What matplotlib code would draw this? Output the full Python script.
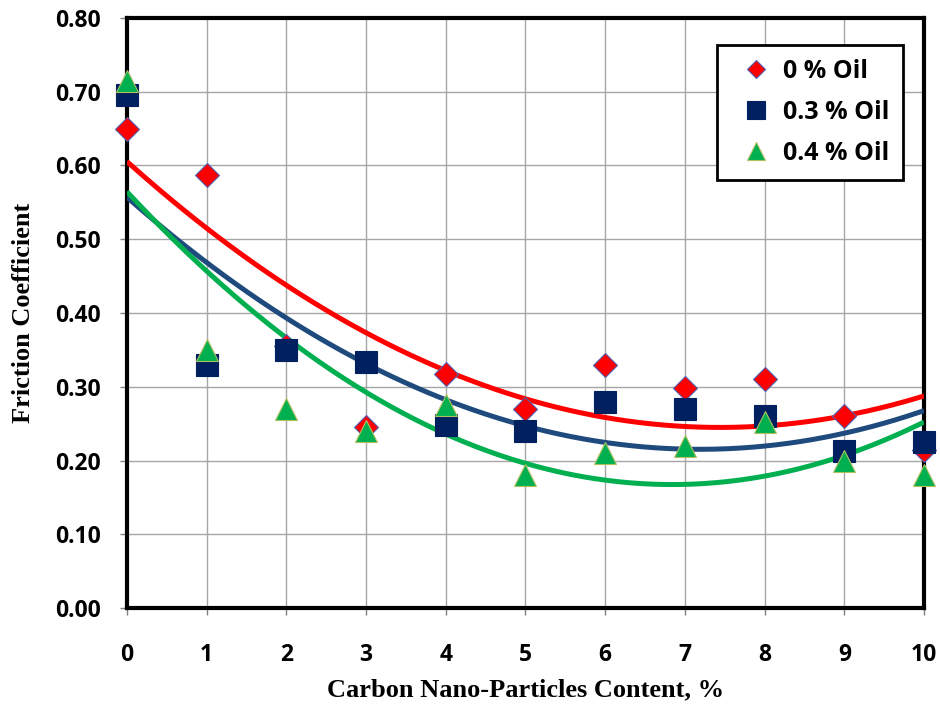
"""
Friction coefficient vs carbon nano-particle content, with quadratic trend lines.
"""

import numpy as np
import matplotlib
matplotlib.use("Agg")
import matplotlib.pyplot as plt

# carbon nano-particles content, %
content = [0, 1, 2, 3, 4, 5, 6, 7, 8, 9, 10]

# friction coefficient
oil_0 = [0.649, 0.587, 0.355, 0.245, 0.318, 0.270, 0.330, 0.298, 0.310, 0.260, 0.215]
oil_03 = [0.695, 0.330, 0.350, 0.333, 0.248, 0.240, 0.280, 0.270, 0.260, 0.213, 0.225]
oil_04 = [0.715, 0.350, 0.270, 0.240, 0.275, 0.180, 0.210, 0.220, 0.252, 0.200, 0.180]

labels = ["0 % Oil", "0.3 % Oil", "0.4 % Oil"]
yticks = [0.0, 0.1, 0.2, 0.3, 0.4, 0.5, 0.6, 0.7, 0.8]

TICK_FONT = "Open Sans"
LABEL_FONT = "Liberation Serif"


def main() -> None:
    fig = plt.figure(figsize=(9.4, 7.13), dpi=100)
    ax = fig.add_axes([0.135, 0.147, 0.848, 0.828])

    styles = [
        (oil_0, "D", "#FF0000", "#5060B0", "#FF0000", 12),
        (oil_03, "s", "#002060", "#002060", "#1F4A7E", 16),
        (oil_04, "^", "#00B050", "#B0C060", "#00B050", 16),
    ]

    xs = np.linspace(0, 10, 200)
    handles = []
    # trend lines first so markers sit on top
    for ys, _m, _fc, _ec, lc, _ms in styles:
        coef = np.polyfit(content, ys, 2)
        ax.plot(xs, np.polyval(coef, xs), color=lc, lw=3.6, zorder=3,
                solid_capstyle="butt")
    for (ys, m, fc, ec, lc, ms), lab in zip(styles, labels):
        h, = ax.plot(content, ys, ls="none", marker=m, ms=ms, mfc=fc,
                     mec=ec, mew=0.8, zorder=4, label=lab, clip_on=False)
        handles.append(h)

    ax.set_xlim(0, 10)
    ax.set_ylim(0, 0.8)
    ax.set_xticks(content)
    ax.set_yticks(yticks)
    ax.set_yticklabels([f"{v:.2f}" for v in yticks])
    ax.grid(True, color="#A6A6A6", lw=1.0)
    ax.set_axisbelow(True)

    for sp in ax.spines.values():
        sp.set_linewidth(3.0)
        sp.set_color("black")

    ax.tick_params(axis="both", direction="out", length=5, width=1,
                   color="#808080")
    ax.tick_params(axis="y", pad=14)
    ax.tick_params(axis="x", pad=20)
    for t in ax.get_xticklabels() + ax.get_yticklabels():
        t.set_fontfamily(TICK_FONT)
        t.set_fontweight("bold")
        t.set_fontsize(16.5)

    ax.set_xlabel("Carbon Nano-Particles Content, %", fontfamily=LABEL_FONT,
                  fontweight="bold", fontsize=19, labelpad=8)
    ax.set_ylabel("Friction Coefficient", fontfamily=LABEL_FONT,
                  fontweight="bold", fontsize=19, labelpad=14)

    leg = ax.legend(handles=handles, loc="upper right",
                    bbox_to_anchor=(0.974, 0.954), borderaxespad=0,
                    frameon=True, fancybox=False,
                    edgecolor="black", framealpha=1, borderpad=0.55,
                    labelspacing=0.65, handletextpad=0.1, handlelength=2.0,
                    markerscale=0.8,
                    prop={"family": TICK_FONT, "weight": "bold", "size": 18})
    leg.get_frame().set_linewidth(2.0)
    leg.set_zorder(6)

    fig.savefig("out.png", dpi=100)
    plt.close(fig)


if __name__ == "__main__":
    main()
